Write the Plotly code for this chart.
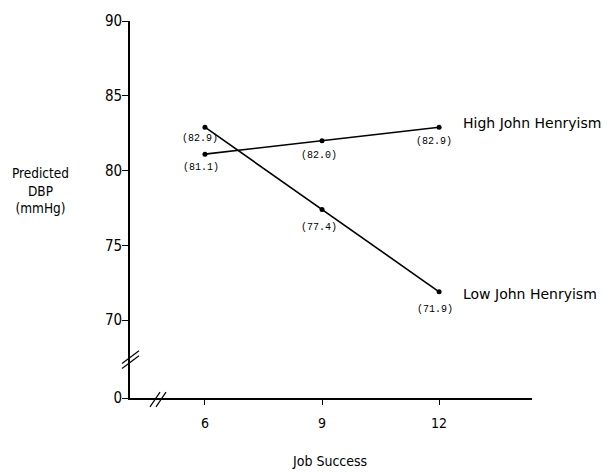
import plotly.graph_objects as go

# ---- data ----
job_success = [6, 9, 12]
high_jh = [81.1, 82.0, 82.9]
low_jh = [82.9, 77.4, 71.9]
series_names = ["High John Henryism", "Low John Henryism"]
y_tick_vals = [70, 75, 80, 85, 90]
x_tick_vals = [6, 9, 12]

# broken-axis settings (axis "0" drawn below the break)
Y_ZERO_POS = 64.8
X_MIN, X_MAX = 4.08, 14.38
Y_MAX = 90.0

W, H = 609, 472
ML, MR, MT, MB = 130, 77, 15, 74
PW, PH = W - ML - MR, H - MT - MB

def px_x(px):
    return (px - ML) / PW

def px_y(py):
    return (H - MB - py) / PH

mono = "Liberation Mono, DejaVu Sans Mono, monospace"
narrow = "Liberation Sans Narrow, DejaVu Sans Condensed, Liberation Sans, sans-serif"
sans = "DejaVu Sans, Liberation Sans, sans-serif"

fig = go.Figure()
for vals in (high_jh, low_jh):
    fig.add_trace(go.Scatter(
        x=job_success, y=vals, mode="lines+markers",
        line=dict(color="black", width=1.6),
        marker=dict(color="black", size=5),
        showlegend=False, cliponaxis=False,
    ))

ann = []
# value labels
offsets_high = [(-4, -13), (-3, -15), (-5, -14)]
offsets_low = [(-5, -11), (-3, -18), (-4, -18)]
for x, v, (dx, dy) in zip(job_success, high_jh, offsets_high):
    ann.append(dict(x=x, y=v, xref="x", yref="y", text=f"({v:.1f})", showarrow=False,
                    xshift=dx, yshift=dy, font=dict(family=mono, size=10, color="black")))
for x, v, (dx, dy) in zip(job_success, low_jh, offsets_low):
    ann.append(dict(x=x, y=v, xref="x", yref="y", text=f"({v:.1f})", showarrow=False,
                    xshift=dx, yshift=dy, font=dict(family=mono, size=10, color="black")))

# series labels
ann.append(dict(x=job_success[-1], y=high_jh[-1], xref="x", yref="y", text=series_names[0],
                showarrow=False, xanchor="left", xshift=22, yshift=4,
                font=dict(family=sans, size=14, color="black")))
ann.append(dict(x=job_success[-1], y=low_jh[-1], xref="x", yref="y", text=series_names[1],
                showarrow=False, xanchor="left", xshift=22, yshift=-2,
                font=dict(family=sans, size=14, color="black")))

# axis titles
ann.append(dict(x=px_x(40), y=px_y(187), xref="paper", yref="paper",
                xanchor="center", yanchor="middle",
                text="Predicted<br>DBP<br>(mmHg)", showarrow=False, align="center",
                font=dict(family=narrow, size=13.5, color="black")))
ann.append(dict(x=px_x(329), y=px_y(462), xref="paper", yref="paper",
                xanchor="center", yanchor="middle",
                text="Job Success", showarrow=False,
                font=dict(family=narrow, size=14, color="black")))

shapes = []
# y-axis break marks
for off in (0, 5):
    shapes.append(dict(type="line", xref="paper", yref="paper",
                       x0=px_x(122), y0=px_y(368 - off), x1=px_x(139), y1=px_y(355 - off),
                       line=dict(color="black", width=1.2)))
# x-axis break marks
for off in (0, 6):
    shapes.append(dict(type="line", xref="paper", yref="paper",
                       x0=px_x(150 + off), y0=px_y(407), x1=px_x(160 + off), y1=px_y(392),
                       line=dict(color="black", width=1.2)))

fig.update_layout(
    width=W, height=H,
    margin=dict(l=ML, r=MR, t=MT, b=MB),
    plot_bgcolor="white", paper_bgcolor="white",
    annotations=ann, shapes=shapes,
    xaxis=dict(range=[X_MIN, X_MAX], tickvals=x_tick_vals,
               ticktext=[str(v) for v in x_tick_vals],
               showline=True, linecolor="black", linewidth=1.6,
               ticks="outside", ticklen=5, tickcolor="black", tickwidth=1,
               ticklabelstandoff=6,
               showgrid=False, zeroline=False,
               tickfont=dict(family=narrow, size=14, color="black")),
    yaxis=dict(range=[Y_ZERO_POS, Y_MAX], tickvals=[Y_ZERO_POS] + y_tick_vals,
               ticktext=["0"] + [str(v) for v in y_tick_vals],
               showline=True, linecolor="black", linewidth=1.6,
               ticks="outside", ticklen=6, tickcolor="black", tickwidth=1,
               ticklabelstandoff=-3,
               showgrid=False, zeroline=False,
               tickfont=dict(family=narrow, size=15, color="black")),
)

fig.write_html("out.html", config={"displayModeBar": False},
               post_script="document.body.style.margin='0';document.body.style.padding='0';")
